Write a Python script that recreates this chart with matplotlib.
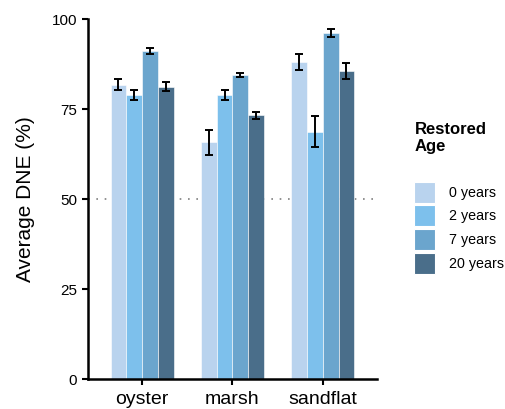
import numpy as np
import matplotlib
matplotlib.use("Agg")
import matplotlib.pyplot as plt
from matplotlib.patches import Patch

plt.rcParams['font.family'] = ['Liberation Sans', 'DejaVu Sans']

habitats = ['oyster', 'marsh', 'sandflat']
ages = ['0 years', '2 years', '7 years', '20 years']
colors = ['#B9D3EE', '#7DC0EC', '#6BA5CD', '#4A6E8A']

# mean DNE per age group for each habitat
dne_0 = [81.7, 65.7, 88.1]
dne_2 = [78.9, 78.9, 68.7]
dne_7 = [91.1, 84.5, 96.2]
dne_20 = [81.2, 73.2, 85.6]
err_0 = [1.5, 3.6, 2.3]
err_2 = [1.4, 1.3, 4.3]
err_7 = [0.75, 0.6, 1.1]
err_20 = [1.2, 1.1, 2.2]

means = [dne_0, dne_2, dne_7, dne_20]
errs = [err_0, err_2, err_7, err_20]

fig = plt.figure(figsize=(5.06, 4.09), dpi=100)
ax = fig.add_axes([0.1739, 0.0733, 0.5711, 0.8802])

x = np.arange(1, len(habitats) + 1)
w = 0.175
ax.axhline(50, color='#7f7f7f', lw=1.2, ls=(0, (1, 4)), zorder=0)
handles = []
for i in range(4):
    pos = x + (i - 1.5) * w
    ax.bar(pos, means[i], width=w, color=colors[i], edgecolor='white', lw=0.4, zorder=2)
    ax.errorbar(pos, means[i], yerr=errs[i], fmt='none', ecolor='black',
                elinewidth=1.4, capsize=2.6, capthick=1.4, zorder=3)
    handles.append(Patch(facecolor=colors[i], edgecolor='white', lw=0.8, label=ages[i]))

ax.set_xlim(0.4, 3.6)
ax.set_ylim(0, 100)
ax.set_xticks(x)
ax.set_xticklabels(habitats, fontsize=14)
ax.set_yticks([0, 25, 50, 75, 100])
ax.tick_params(axis='y', labelsize=11, length=4.5, width=1.5, pad=3.5)
ax.tick_params(axis='x', length=4.5, width=1.5, pad=4)
for s in ['top', 'right']:
    ax.spines[s].set_visible(False)
for s in ['left', 'bottom']:
    ax.spines[s].set_linewidth(1.8)
ax.set_ylabel('Average DNE (%)', fontsize=15, labelpad=12)

fig.text(0.820, 0.702, 'Restored\nAge', fontsize=12, fontweight='bold',
         ha='left', va='top', linespacing=1.15)
fig.legend(handles=handles, loc='upper left', bbox_to_anchor=(0.818, 0.556),
           frameon=False, fontsize=10.3, handlelength=1.47, handleheight=1.885,
           labelspacing=0.19, handletextpad=1.0, borderaxespad=0, borderpad=0)

fig.savefig('out.png', dpi=100)
